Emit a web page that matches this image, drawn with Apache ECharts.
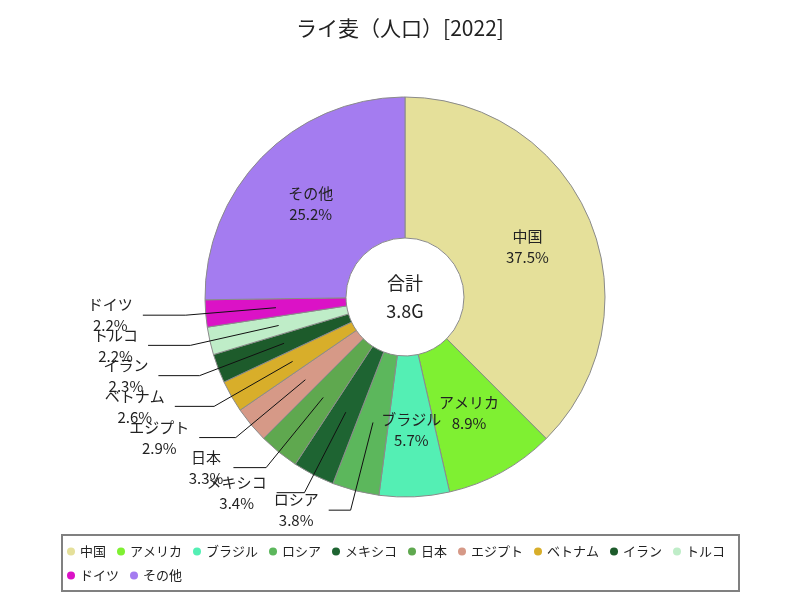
<!DOCTYPE html>
<html><head><meta charset="utf-8">
<script src="https://cdn.jsdelivr.net/npm/echarts@6/dist/echarts.min.js"></script>
<style>html,body{margin:0;padding:0;background:#fff}#c{width:800px;height:600px}</style>
</head><body><div id="c"></div>
<script>
// ---- data (population, millions) ----
const categories = ['中国','アメリカ','ブラジル','ロシア','メキシコ','日本','エジプト','ベトナム','イラン','トルコ','ドイツ','その他'];
const values = [1425, 338, 215, 144, 128, 124, 111, 98, 89, 85, 83, 958];
const titleText = 'ライ麦（人口）[2022]';
const totalTitle = '合計';

// ---- style ----
const colors = ['#e5e09a','#7ff032','#54efb4','#5cb75c','#1e6432','#5fa84f','#d69987','#d8ae2a','#1d5b2b','#bfedc8','#db12c6','#a47cf0'];
const FONT = '"Noto Sans CJK JP", sans-serif';
const cx = 405, cy = 297, rIn = 59, rOut = 200, rMid = (rIn + rOut) / 2;

const total = values.reduce((a, b) => a + b, 0);
const totalLabel = (total / 1000).toFixed(1) + 'G';
const isInside = i => values[i] / total >= 0.05;

const labelBase = { formatter: '{b}\n{d}%', fontSize: 15, lineHeight: 21, color: '#222', fontFamily: FONT };

const mainData = categories.map((n, i) => ({
  name: n, value: values[i],
  label: { show: isInside(i), position: 'inside' }
}));
const labelData = categories.map((n, i) => ({
  name: n, value: values[i],
  label: { show: !isInside(i), position: 'outside' },
  labelLine: { show: !isInside(i) }
}));

const chart = echarts.init(document.getElementById('c'));
chart.setOption({
  animation: false,
  color: colors,
  title: {
    text: titleText, left: 'center', top: 13,
    textStyle: { fontSize: 21, fontWeight: 'normal', color: '#222', fontFamily: FONT }
  },
  legend: {
    data: categories,
    left: 61, top: 534, width: 670, padding: [11, 6],
    itemGap: 11, itemWidth: 8, itemHeight: 8, icon: 'circle',
    itemStyle: { borderWidth: 0 },
    textStyle: { fontSize: 13, color: '#222', fontFamily: FONT }
  },
  graphic: [
    { type: 'rect', left: 61, top: 534, z: -1,
      shape: { width: 677, height: 56 },
      style: { fill: '#fff', stroke: '#808080', lineWidth: 2 } },
    { type: 'text', x: cx, y: cy, z: 100,
      style: { text: totalTitle + '\n' + totalLabel, align: 'center', verticalAlign: 'middle',
               fontSize: 18, lineHeight: 28, fill: '#222', fontFamily: FONT } }
  ],
  series: [{
    name: 'main', type: 'pie', center: [cx, cy], radius: [rIn, rOut], startAngle: 90,
    avoidLabelOverlap: false, percentPrecision: 1, z: 2,
    itemStyle: { borderColor: '#8a8a8a', borderWidth: 1 },
    label: labelBase,
    labelLine: { show: false },
    labelLayout: function () { return {}; },
    emphasis: { disabled: true },
    data: mainData
  }, {
    name: 'labels', type: 'pie', center: [cx, cy], radius: [rIn, rMid], startAngle: 90,
    avoidLabelOverlap: false, percentPrecision: 1, z: 3, silent: true,
    itemStyle: { color: 'rgba(0,0,0,0)', borderWidth: 0 },
    label: labelBase,
    labelLine: { length: rOut + 20 - rMid, length2: 36, lineStyle: { color: '#111', width: 1 } },
    emphasis: { disabled: true },
    labelLayout: function (p) {
      if (isInside(p.dataIndex)) return {};
      const pts = p.labelLinePoints;
      if (!pts) return {};
      const p0 = pts[0], p1 = pts[1];
      const dx = p1[0] - p0[0], dy = p1[1] - p0[1];
      const L = Math.hypot(dx, dy) || 1;
      const ux = dx / L;
      const dir = ux < 0 ? -1 : 1;
      const len2 = 15 + 28 * Math.abs(ux);
      const end = [p1[0] + dir * len2, p1[1]];
      const w = p.labelRect.width;
      return {
        x: end[0] + dir * (10 + w / 2), y: end[1],
        align: 'center', verticalAlign: 'middle',
        labelLinePoints: [[p0[0], p0[1]], [p1[0], p1[1]], end]
      };
    },
    data: labelData
  }]
});
</script>
</body></html>
